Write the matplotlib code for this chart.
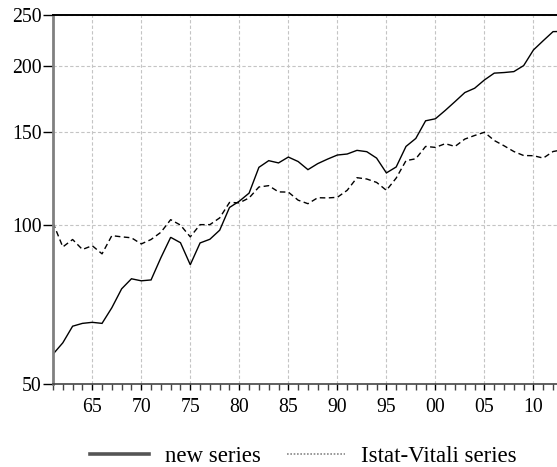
import matplotlib
matplotlib.use("Agg")
import matplotlib.pyplot as plt
from matplotlib.lines import Line2D
from matplotlib.ticker import FixedLocator, NullLocator, FixedFormatter, MultipleLocator

years = list(range(1961, 2014))
new_series = [56.9, 59.8, 64.3, 65.1, 65.4, 65.1, 69.7, 75.7, 79.1, 78.4,
              78.7, 86.7, 94.8, 92.6, 84.1, 92.5, 94.0, 97.8, 108.0, 111.0,
              115.0, 128.7, 132.5, 131.2, 134.6, 132.0, 127.4, 130.8, 133.4, 135.8,
              136.4, 138.6, 137.8, 134.0, 125.6, 128.9, 141.0, 146.0, 157.7, 159.1,
              165.0, 171.5, 178.4, 181.8, 188.5, 194.2, 194.7, 195.5, 200.7, 214.9,
              223.8, 232.8, 233.0]
istat_vitali = [101.0, 90.9, 93.9, 89.9, 91.4, 88.2, 95.5, 95.0, 94.6, 92.1,
                93.9, 96.9, 102.4, 100.0, 95.0, 100.2, 100.2, 103.2, 110.4, 110.2,
                112.6, 118.1, 118.8, 115.6, 115.5, 111.5, 109.8, 112.7, 112.6, 112.9,
                116.4, 123.0, 122.3, 120.5, 116.4, 122.8, 132.5, 133.6, 141.0, 140.4,
                142.7, 141.0, 145.6, 147.9, 150.0, 144.7, 141.4, 137.9, 135.5, 135.4,
                134.0, 137.9, 139.0]
x_ticks = [1965, 1970, 1975, 1980, 1985, 1990, 1995, 2000, 2005, 2010]
x_labels = ["65", "70", "75", "80", "85", "90", "95", "00", "05", "10"]
y_ticks = [50, 100, 150, 200, 250]
y_labels = ["50", "100", "150", "200", "250"]
legend_labels = ["new series", "Istat-Vitali series"]

plt.rcParams['font.family'] = ['Liberation Serif', 'DejaVu Serif']
FS = 14.2
LFS = 16.5

fig = plt.figure(figsize=(5.57, 4.67), dpi=100)
ax = fig.add_axes([53 / 557, 1 - 383.8 / 467, 504 / 557, (383.8 - 15.3) / 467])

ax.plot(years, new_series, color='black', lw=1.0, solid_joinstyle='miter')
ax.plot(years, istat_vitali, color='black', lw=1.0, linestyle=(0, (4, 2.5)))

ax.set_yscale('log')
ax.set_ylim(50, 250)
ax.set_xlim(1961, 2012.4)
ax.yaxis.set_major_locator(FixedLocator(y_ticks))
ax.yaxis.set_major_formatter(FixedFormatter(y_labels))
ax.yaxis.set_minor_locator(NullLocator())
ax.xaxis.set_major_locator(FixedLocator(x_ticks))
ax.xaxis.set_major_formatter(FixedFormatter(x_labels))
ax.xaxis.set_minor_locator(MultipleLocator(1))

ax.grid(True, which='major', color='#c4c4c4', lw=0.8, linestyle=(0, (3, 2)))
ax.set_axisbelow(True)

ax.tick_params(axis='y', which='major', length=7, width=1, pad=1, labelsize=FS, colors='black')
ax.tick_params(axis='x', which='major', length=4.5, width=1, pad=6, labelsize=FS, colors='black')
ax.tick_params(axis='x', which='minor', length=4, width=1, colors='#444444')

ax.spines['right'].set_visible(False)
ax.spines['top'].set_color('black')
ax.spines['top'].set_linewidth(1.4)
ax.spines['left'].set_color('#808080')
ax.spines['left'].set_linewidth(2.0)
ax.spines['bottom'].set_color('#444444')
ax.spines['bottom'].set_linewidth(1.2)

handles = [Line2D([], [], color='#555555', lw=2.6),
           Line2D([], [], color='#888888', lw=1.2, linestyle=(0, (1, 1)))]
fig.legend(handles, legend_labels, loc='center', bbox_to_anchor=(0.545, 0.022),
           ncol=2, frameon=False, fontsize=LFS, handlelength=2.55,
           handletextpad=0.7, columnspacing=1.13, borderaxespad=0, borderpad=0)

fig.savefig('out.png', dpi=100)
